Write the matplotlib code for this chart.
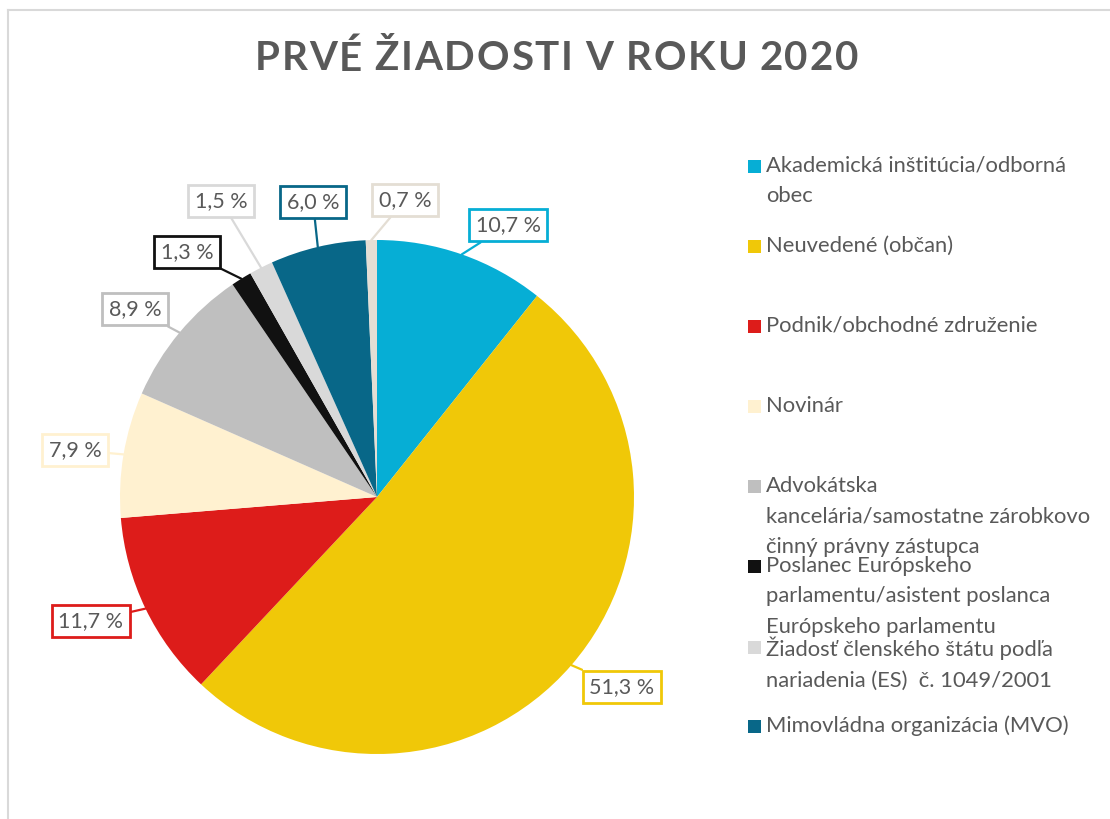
import numpy as np
import matplotlib.pyplot as plt
from matplotlib.lines import Line2D
from matplotlib.patches import Rectangle

# data
labels = [
    "Akademická inštitúcia/odborná\nobec",
    "Neuvedené (občan)",
    "Podnik/obchodné združenie",
    "Novinár",
    "Advokátska\nkancelária/samostatne zárobkovo\nčinný právny zástupca",
    "Poslanec Európskeho\nparlamentu/asistent poslanca\nEurópskeho parlamentu",
    "Žiadosť členského štátu podľa\nnariadenia (ES)  č. 1049/2001",
    "Mimovládna organizácia (MVO)",
    "",
]
shares = [10.7, 51.3, 11.7, 7.9, 8.9, 1.3, 1.5, 6.0, 0.7]
colors = ["#06AED5", "#F0C808", "#DD1C1A", "#FFF1D0", "#BFBFBF",
          "#111111", "#D9D9D9", "#086788", "#E4DED4"]

# layout (pixels, origin top-left)
W, H = 1110, 819
center = (377, 497)
radius = 257
label_pos = [(508, 225), (622, 687), (91, 621), (75, 450), (135, 309),
             (187, 252), (221, 201), (313, 202), (405, 200)]
legend_y = [166, 246, 326, 406, 486, 566, 647, 726]
text_col = "#595959"
font = "Lato"

fig = plt.figure(figsize=(W / 100, H / 100), dpi=100)
ax = fig.add_axes([0, 0, 1, 1])

def py(y):
    return H - y

wedges, _ = ax.pie(shares, colors=colors, startangle=90, counterclock=False,
                   center=(center[0], py(center[1])), radius=radius,
                   wedgeprops=dict(linewidth=0))
ax.set_xlim(0, W)
ax.set_ylim(0, H)
ax.set_aspect("equal")
ax.axis("off")

# boxed data labels with leader lines
for w, val, col, (lx, ly) in zip(wedges, shares, colors, label_pos):
    ang = np.deg2rad((w.theta1 + w.theta2) / 2)
    ax_pt = (center[0] + radius * np.cos(ang), py(center[1]) + radius * np.sin(ang))
    txt = f"{val:.1f}".replace(".", ",") + " %"
    ax.annotate(txt, xy=ax_pt, xytext=(lx, py(ly)), ha="center", va="center",
                fontsize=15.5, color=text_col, family=font,
                bbox=dict(boxstyle="square,pad=0.3", fc="white", ec=col, lw=2),
                arrowprops=dict(arrowstyle="-", color=col, lw=1.6,
                                shrinkA=0, shrinkB=0))

# legend drawn by hand to match uneven spacing
for lab, col, y in zip(labels, colors, legend_y):
    ax.add_patch(Rectangle((748, py(y) - 6.5), 13, 13, fc=col, ec="none"))
    ax.text(766, py(y) + 10.5, lab, ha="left", va="top", fontsize=15.8,
            color=text_col, family=font, linespacing=1.68)

# title with letter spacing
renderer = fig.canvas.get_renderer()
title = "PRVÉ ŽIADOSTI V ROKU 2020"
tkw = dict(fontsize=29, fontweight="bold", color=text_col, family=font)
widths = []
for ch in title:
    if ch == " ":
        widths.append(9.0)
        continue
    t = fig.text(0, 0, ch, **tkw)
    widths.append(t.get_window_extent(renderer).width)
    t.remove()
x0, x1 = 255, 858
gap = (x1 - x0 - sum(widths)) / (len(title) - 1)
x = x0
for ch, wd in zip(title, widths):
    if ch != " ":
        fig.text(x / W, 1 - 59 / H, ch, ha="left", va="center", **tkw)
    x += wd + gap

# chart frame (top and left edges visible)
fig.add_artist(Line2D([8 / W, 1], [1 - 10 / H, 1 - 10 / H], color="#D9D9D9", lw=1.5))
fig.add_artist(Line2D([8 / W, 8 / W], [0, 1 - 10 / H], color="#D9D9D9", lw=1.5))

fig.savefig("out.png", dpi=100)
